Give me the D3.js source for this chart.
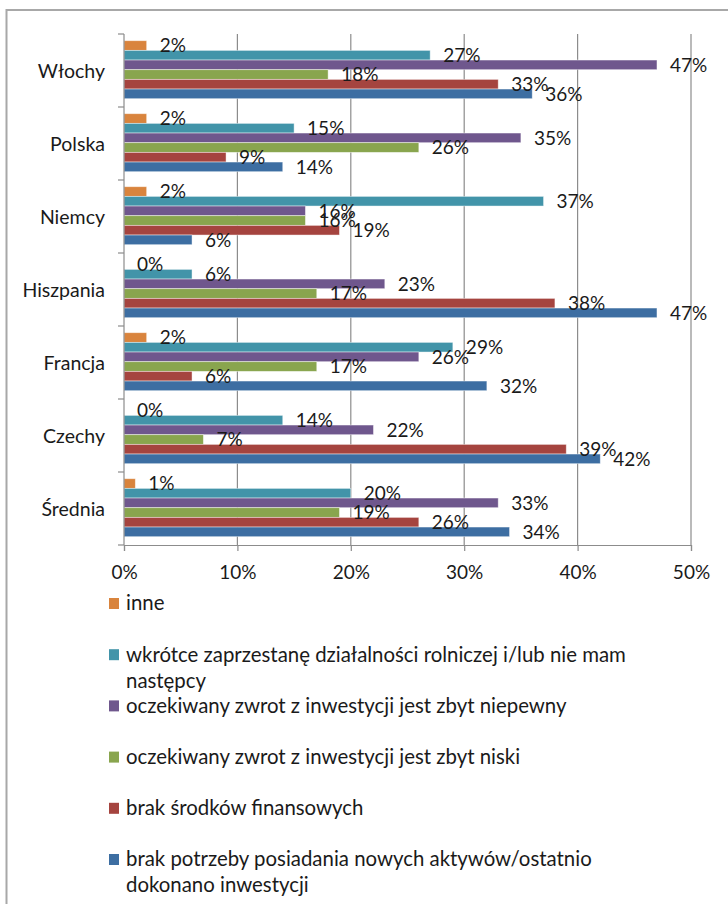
<!DOCTYPE html>
<html>
<head>
<meta charset="utf-8">
<script src="https://cdn.jsdelivr.net/npm/d3@7"></script>
<style>
  body { margin: 0; background: #fff; }
  svg text { font-family: Lato, "Open Sans", sans-serif; fill: #1a1a1a; }
</style>
</head>
<body>
<script>
// chart size
var W = 728, H = 904;

// categories (top to bottom)
var countries = ["Włochy", "Polska", "Niemcy", "Hiszpania", "Francja", "Czechy", "Średnia"];

// series names, in the order the bars are drawn in each group (top to bottom)
var seriesNames = [
    "inne",
    "wkrótce zaprzestanę działalności rolniczej i/lub nie mam następcy",
    "oczekiwany zwrot z inwestycji jest zbyt niepewny",
    "oczekiwany zwrot z inwestycji jest zbyt niski",
    "brak środków finansowych",
    "brak potrzeby posiadania nowych aktywów/ostatnio dokonano inwestycji"
];
// legend text split in lines
var legendLines = [
    ["inne"],
    ["wkrótce zaprzestanę działalności rolniczej i/lub nie mam", "następcy"],
    ["oczekiwany zwrot z inwestycji jest zbyt niepewny"],
    ["oczekiwany zwrot z inwestycji jest zbyt niski"],
    ["brak środków finansowych"],
    ["brak potrzeby posiadania nowych aktywów/ostatnio", "dokonano inwestycji"]
];
var seriesColors = ["#d9843d", "#4294a9", "#6f578d", "#89a54e", "#a5443f", "#3d6ea2"];

// values per series, in the order of countries
var inne      = [0.02, 0.02, 0.02, 0.00, 0.02, 0.00, 0.01];
var wkrotce   = [0.27, 0.15, 0.37, 0.06, 0.29, 0.14, 0.20];
var niepewny  = [0.47, 0.35, 0.16, 0.23, 0.26, 0.22, 0.33];
var niski     = [0.18, 0.26, 0.16, 0.17, 0.17, 0.07, 0.19];
var brakSrod  = [0.33, 0.09, 0.19, 0.38, 0.06, 0.39, 0.26];
var brakPotrz = [0.36, 0.14, 0.06, 0.47, 0.32, 0.42, 0.34];
var seriesValues = [inne, wkrotce, niepewny, niski, brakSrod, brakPotrz];

// x axis ticks
var xTicks = [0, 0.1, 0.2, 0.3, 0.4, 0.5];

var svg = d3.select("body").append("svg")
    .attr("width", W)
    .attr("height", H);

// outer frame (only left and top edges visible)
svg.append("rect")
    .attr("x", 6.5).attr("y", 10)
    .attr("width", 800).attr("height", 1000)
    .attr("fill", "none")
    .attr("stroke", "#a8a8a8")
    .attr("stroke-width", 2);

// scales
var xScale = d3.scaleLinear().domain([0, 0.5]).range([124, 691]);
var yScale = d3.scaleBand().domain(countries).range([34, 545]).paddingInner(0).paddingOuter(0);
var barScale = d3.scaleBand().domain(d3.range(seriesNames.length))
    .range([6.7, 6.7 + 58]);

// gridlines
svg.append("g")
    .selectAll("line")
    .data(xTicks.slice(1))
    .enter()
    .append("line")
    .attr("x1", function(d) { return xScale(d); })
    .attr("x2", function(d) { return xScale(d); })
    .attr("y1", 34)
    .attr("y2", 545)
    .attr("stroke", "#8c8c8c")
    .attr("stroke-width", 1.2);

// bars
var rows = [];
countries.forEach(function(c, ci) {
    seriesValues.forEach(function(vals, si) {
        rows.push({ country: c, s: si, value: vals[ci] });
    });
});

svg.append("g")
    .selectAll("rect")
    .data(rows)
    .enter()
    .append("rect")
    .attr("x", xScale(0))
    .attr("y", function(d) { return yScale(d.country) + barScale(d.s); })
    .attr("width", function(d) { return xScale(d.value) - xScale(0); })
    .attr("height", barScale.bandwidth())
    .attr("fill", function(d) { return seriesColors[d.s]; })
    .attr("stroke", "rgba(255,255,255,0.55)")
    .attr("stroke-width", 0.8);

// data labels
svg.append("g")
    .selectAll("text")
    .data(rows)
    .enter()
    .append("text")
    .attr("x", function(d) { return xScale(d.value) + 13; })
    .attr("y", function(d) { return yScale(d.country) + barScale(d.s) + barScale.bandwidth() / 2; })
    .attr("dy", "0.36em")
    .style("font-size", "19px")
    .text(function(d) { return Math.round(d.value * 100) + "%"; });

// x axis
var xAxis = svg.append("g")
    .attr("transform", "translate(0,545)")
    .call(d3.axisBottom(xScale)
        .tickValues(xTicks)
        .tickFormat(d3.format(".0%"))
        .tickSize(6)
        .tickPadding(15));
xAxis.select(".domain").attr("stroke", "#8c8c8c").attr("stroke-width", 1.2);
xAxis.selectAll(".tick line").attr("stroke", "#8c8c8c").attr("stroke-width", 1.2);
xAxis.selectAll(".tick text")
    .style("font-size", "19px")
    .style("font-family", "Lato, sans-serif")
    .attr("fill", "#1a1a1a");

// y axis with ticks at category boundaries
var yAxis = svg.append("g")
    .attr("transform", "translate(124,0)");
yAxis.append("line")
    .attr("x1", 0).attr("x2", 0)
    .attr("y1", 34).attr("y2", 545)
    .attr("stroke", "#8c8c8c")
    .attr("stroke-width", 1.2);
var bounds = countries.map(function(c) { return yScale(c); }).concat([yScale.range()[1]]);
yAxis.selectAll(".bt")
    .data(bounds)
    .enter()
    .append("line")
    .attr("class", "bt")
    .attr("x1", -6).attr("x2", 0)
    .attr("y1", function(d) { return d; })
    .attr("y2", function(d) { return d; })
    .attr("stroke", "#8c8c8c")
    .attr("stroke-width", 1.2);
yAxis.selectAll(".cl")
    .data(countries)
    .enter()
    .append("text")
    .attr("class", "cl")
    .attr("x", -19)
    .attr("y", function(d) { return yScale(d) + yScale.bandwidth() / 2; })
    .attr("dy", "0.36em")
    .attr("text-anchor", "end")
    .style("font-size", "19.5px")
    .text(function(d) { return d; });

// legend
var legendTop = 603, legendStep = 51.2, lineH = 26;
var legend = svg.append("g")
    .selectAll("g")
    .data(seriesNames)
    .enter()
    .append("g")
    .attr("transform", function(d, i) { return "translate(108," + (legendTop + i * legendStep) + ")"; });

legend.append("rect")
    .attr("x", 1).attr("y", -5)
    .attr("width", 10).attr("height", 11)
    .attr("fill", function(d, i) { return seriesColors[i]; });

legend.append("text")
    .attr("x", 18)
    .style("font-size", "20.4px")
    .selectAll("tspan")
    .data(function(d, i) { return legendLines[i]; })
    .enter()
    .append("tspan")
    .attr("x", 18)
    .attr("y", function(d, j) { return j * lineH; })
    .attr("dy", "0.36em")
    .text(function(d) { return d; });
</script>
</body>
</html>
